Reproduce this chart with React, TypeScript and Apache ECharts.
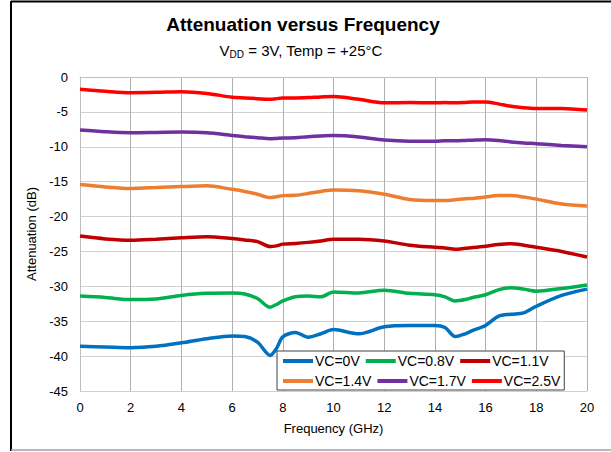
import React, { useEffect, useRef } from "react";
import * as echarts from "echarts";

const freq = [0, 1, 2, 3, 4, 5, 6, 6.5, 7, 7.5, 7.75, 8, 8.5, 9, 9.5, 10, 11, 12, 13, 14, 14.4, 14.8, 15.2, 15.5, 16, 16.5, 17, 17.5, 18, 19, 20];

const vc0 = [-38.6, -38.7, -38.8, -38.6, -38.1, -37.5, -37.1, -37.2, -38.0, -39.9, -38.9, -37.25, -36.6, -37.3, -36.8, -36.2, -36.8, -35.8, -35.6, -35.6, -35.9, -37.2, -36.8, -36.3, -35.6, -34.3, -34.0, -33.8, -32.85, -31.3, -30.4];
const vc08 = [-31.4, -31.6, -31.9, -31.8, -31.3, -31.0, -30.95, -31.1, -31.75, -33.0, -32.6, -32.1, -31.5, -31.4, -31.5, -30.8, -30.95, -30.56, -31.0, -31.2, -31.5, -32.1, -31.9, -31.6, -31.2, -30.5, -30.2, -30.4, -30.7, -30.3, -29.8];
const vc11 = [-22.8, -23.2, -23.4, -23.25, -23.05, -22.9, -23.15, -23.35, -23.6, -24.3, -24.2, -23.95, -23.85, -23.7, -23.5, -23.25, -23.25, -23.5, -24.1, -24.4, -24.5, -24.7, -24.55, -24.45, -24.25, -24.0, -23.9, -24.1, -24.4, -25.0, -25.8];
const vc14 = [-15.4, -15.75, -15.97, -15.85, -15.7, -15.6, -16.1, -16.4, -16.8, -17.27, -17.15, -17.0, -16.95, -16.7, -16.4, -16.2, -16.3, -16.8, -17.55, -17.7, -17.7, -17.6, -17.45, -17.4, -17.2, -17.0, -17.0, -17.2, -17.5, -18.2, -18.5];
const vc17 = [-7.6, -7.85, -7.99, -7.95, -7.9, -8.0, -8.37, -8.55, -8.7, -8.85, -8.8, -8.75, -8.7, -8.55, -8.45, -8.4, -8.6, -9.04, -9.2, -9.2, -9.15, -9.15, -9.1, -9.05, -9.0, -9.1, -9.3, -9.45, -9.55, -9.8, -10.0];
const vc25 = [-1.77, -2.05, -2.25, -2.2, -2.1, -2.35, -2.9, -3.0, -3.1, -3.2, -3.1, -3.0, -3.0, -2.95, -2.85, -2.8, -3.2, -3.7, -3.65, -3.7, -3.65, -3.7, -3.65, -3.6, -3.6, -3.85, -4.2, -4.4, -4.5, -4.5, -4.73];

const seriesNames = ["VC=0V", "VC=0.8V", "VC=1.1V", "VC=1.4V", "VC=1.7V", "VC=2.5V"];
const seriesValues = [vc0, vc08, vc11, vc14, vc17, vc25];
const seriesColors = ["#0070C0", "#00B050", "#C00000", "#ED7D31", "#7030A0", "#FF0000"];

export default function App() {
  const ref = useRef<HTMLDivElement>(null);
  useEffect(() => {
    if (!ref.current) return;
    const chart = echarts.init(ref.current, null, { renderer: "svg" });
    const font = "Liberation Sans, Arial, sans-serif";
    chart.setOption({
      animation: false,
      backgroundColor: "#fff",
      textStyle: { fontFamily: font },
      title: [
        {
          text: "Attenuation versus Frequency",
          left: 298,
          textAlign: "center",
          top: 10,
          textStyle: { fontSize: 19, fontWeight: "bold", color: "#000", fontFamily: font },
        },
        {
          text: "V{sub|DD} = 3V, Temp = +25°C",
          left: 296,
          textAlign: "center",
          top: 36,
          textStyle: {
            fontSize: 15,
            fontWeight: "normal",
            color: "#000",
            fontFamily: font,
            rich: {
              sub: { fontSize: 10, verticalAlign: "bottom", padding: [8, 0, 0, 0], fontFamily: font, color: "#000" },
            },
          },
        },
      ],
      grid: { left: 80, right: 24, top: 77, bottom: 61, containLabel: false },
      xAxis: {
        type: "value",
        min: 0,
        max: 20,
        interval: 2,
        name: "Frequency (GHz)",
        nameLocation: "middle",
        nameGap: 31,
        nameTextStyle: { fontSize: 13, color: "#000", fontFamily: font },
        axisLine: { show: true, lineStyle: { color: "#BFBFBF" } },
        axisTick: { show: false },
        axisLabel: { fontSize: 13, color: "#000", margin: 10, fontFamily: font },
        splitLine: { show: true, lineStyle: { color: "#B0B0B0", width: 1 } },
      },
      yAxis: {
        type: "value",
        min: -45,
        max: 0,
        interval: 5,
        name: "Attenuation (dB)",
        nameLocation: "middle",
        nameGap: 28,
        nameTextStyle: { fontSize: 13, color: "#000", fontFamily: font },
        axisLine: { show: true, lineStyle: { color: "#BFBFBF" } },
        axisTick: { show: false },
        axisLabel: { fontSize: 13, color: "#000", margin: 12, fontFamily: font },
        splitLine: { show: true, lineStyle: { color: "#D0D0D0", width: 1 } },
      },
      legend: {
        data: seriesNames,
        icon: "rect",
        left: 277,
        top: 351,
        width: 301,
        padding: [3, 4, 2, 6],
        itemWidth: 30,
        itemHeight: 4,
        itemGap: 6,
        backgroundColor: "#fff",
        borderColor: "#404040",
        borderWidth: 1,
        textStyle: { fontSize: 14, color: "#000", width: 58, fontFamily: font, padding: [0, 0, 0, -3] },
      },
      series: seriesNames.map((name, i) => ({
        name,
        type: "line",
        data: freq.map((f, j) => [f, seriesValues[i][j]]),
        smooth: 0.3,
        symbol: "none",
        showSymbol: false,
        lineStyle: { color: seriesColors[i], width: 3.5 },
        itemStyle: { color: seriesColors[i] },
        z: 3,
      })),
      graphic: [
        { type: "line", shape: { x1: 11, y1: 1.5, x2: 611, y2: 1.5 }, style: { stroke: "#000", lineWidth: 2 } },
        { type: "line", shape: { x1: 11, y1: 1, x2: 11, y2: 451 }, style: { stroke: "#000", lineWidth: 2 } },
        { type: "line", shape: { x1: 11, y1: 450, x2: 611, y2: 450 }, style: { stroke: "#A0A0A0", lineWidth: 1.5 } },
      ],
    });
    return () => chart.dispose();
  }, []);
  return <div ref={ref} style={{ position: "fixed", left: 0, top: 0, width: 611, height: 452 }} />;
}
